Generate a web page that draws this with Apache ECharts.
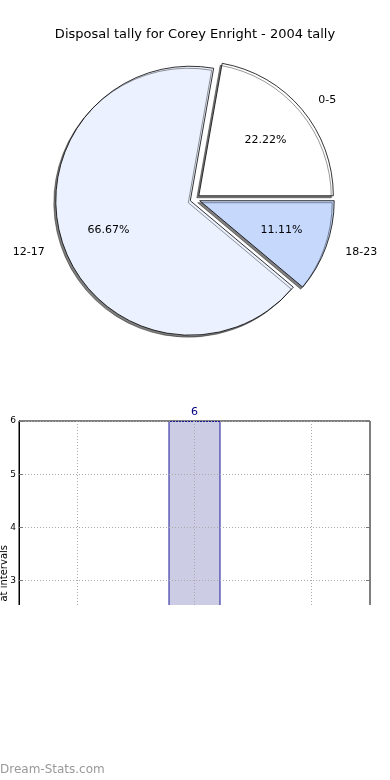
<!DOCTYPE html>
<html><head><meta charset="utf-8">
<script src="https://cdn.jsdelivr.net/npm/echarts@6/dist/echarts.min.js"></script>
<style>html,body{margin:0;padding:0;background:#fff}#c{width:390px;height:780px}</style>
</head><body><div id="c"></div>
<script>
const titleText = 'Disposal tally for Corey Enright - 2004 tally';
const categories = ['0-5', '12-17', '18-23'];
const tallies = [2, 6, 1];
const sliceColors = ['#ffffff', '#ebf1fe', '#c6d9fd'];
const yAxisTitle = 'Games at intervals';
const watermark = 'Dream-Stats.com';

const FONT = 'DejaVu Sans';
const chart = echarts.init(document.getElementById('c'), null, {renderer: 'canvas'});

const pieData = categories.map((c, i) => ({
  name: c, value: tallies[i], selected: true,
  itemStyle: {color: sliceColors[i]}
}));
const pctData = categories.map((c, i) => ({name: c, value: tallies[i], selected: true}));

const dotted = {color: '#aaaaaa', type: [1, 2], width: 1};

chart.setOption({
  animation: false,
  backgroundColor: '#ffffff',
  title: {
    text: titleText, left: 'center', top: 23,
    textStyle: {fontSize: 13, fontWeight: 'normal', fontFamily: FONT, color: '#000'}
  },
  grid: {left: 19, right: 20, top: 421, bottom: 40, show: true, borderColor: '#000', borderWidth: 1},
  xAxis: [{
    type: 'category', data: categories, position: 'bottom', z: 3,
    axisLine: {show: false}, axisTick: {show: false},
    axisLabel: {fontSize: 9, color: '#000', fontFamily: FONT},
    splitLine: {show: true, alignWithLabel: true, lineStyle: dotted}
  }, {
    type: 'category', data: categories, position: 'top', z: 3,
    axisLine: {show: false},
    axisTick: {show: true, inside: true, alignWithLabel: true, length: 4, lineStyle: {color: '#777'}},
    axisLabel: {show: false}, splitLine: {show: false}
  }],
  yAxis: [{
    type: 'value', min: 0, max: 6, interval: 1, z: 3,
    axisLine: {show: true, lineStyle: {color: '#000'}},
    axisTick: {show: true, inside: true, length: 4, lineStyle: {color: '#777'}},
    axisLabel: {fontSize: 9, margin: 3, color: '#000', fontFamily: FONT},
    splitLine: {show: true, lineStyle: dotted}
  }, {
    type: 'value', min: 0, max: 6, interval: 1, position: 'right', z: 3,
    axisLine: {show: false},
    axisTick: {show: true, inside: true, length: 4, lineStyle: {color: '#777'}},
    axisLabel: {show: false}, splitLine: {show: false}
  }],
  series: [{
    type: 'pie', center: [195, 199], radius: 134.5, startAngle: 0, clockwise: false,
    selectedMode: 'multiple', selectedOffset: 5, avoidLabelOverlap: false,
    data: pieData,
    itemStyle: {borderColor: '#000', borderWidth: 0.8, shadowColor: 'rgba(0,0,0,0.5)', shadowOffsetX: -2, shadowOffsetY: 2, shadowBlur: 0},
    label: {show: true, position: 'outside', formatter: '{b}', fontSize: 11, color: '#000', fontFamily: FONT, distanceToLabelLine: 5},
    labelLine: {show: false, length: 15, length2: 0},
    emphasis: {disabled: true},
    select: {itemStyle: {borderColor: '#000', borderWidth: 0.8}}
  }, {
    type: 'pie', center: [195, 199], radius: 168, startAngle: 0, clockwise: false,
    selectedMode: 'multiple', selectedOffset: 5, avoidLabelOverlap: false, silent: true,
    data: pctData,
    itemStyle: {color: 'rgba(0,0,0,0)', borderWidth: 0},
    label: {show: true, position: 'inside', formatter: p => p.percent.toFixed(2) + '%', fontSize: 11, color: '#000', fontFamily: FONT},
    labelLine: {show: false},
    emphasis: {disabled: true},
    select: {itemStyle: {color: 'rgba(0,0,0,0)', borderWidth: 0}}
  }, {
    type: 'bar', xAxisIndex: 0, yAxisIndex: 0, data: tallies, barWidth: 52,
    itemStyle: {color: '#ccccE4', borderColor: '#1a1a99', borderWidth: 1},
    label: {show: true, position: 'top', distance: 3, color: '#000080', fontSize: 11, fontFamily: FONT},
    emphasis: {disabled: true}
  }],
  graphic: [{
    type: 'text', x: 4.5, y: 545, rotation: Math.PI / 2, z: 50,
    style: {text: yAxisTitle, fontSize: 10, fontFamily: FONT, fill: '#000', align: 'right', verticalAlign: 'middle'}
  }, {
    type: 'rect', z: 100, shape: {x: 0, y: 605, width: 390, height: 175}, style: {fill: '#ffffff'}
  }, {
    type: 'text', x: 0, y: 770, z: 101,
    style: {text: watermark, fontSize: 12, fontFamily: FONT, fill: '#999999', align: 'left', verticalAlign: 'middle'}
  }]
});
</script></body></html>
